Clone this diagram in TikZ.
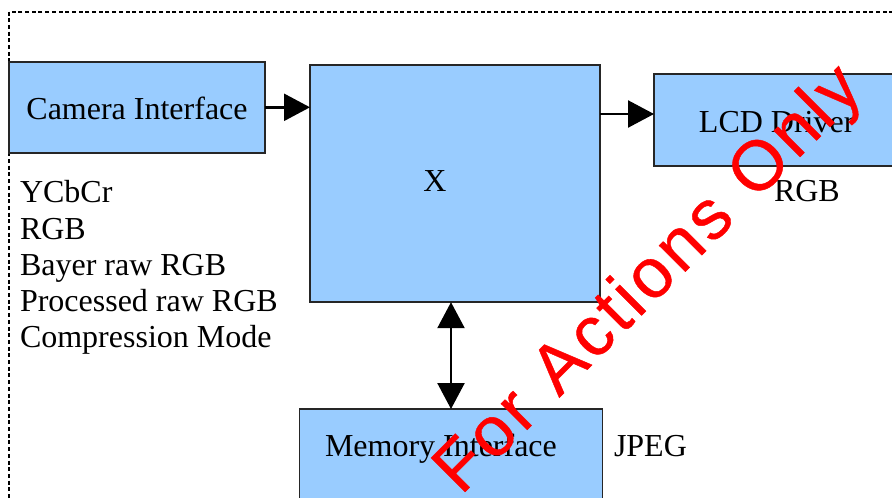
\documentclass[tikz,border=0pt]{standalone}
\usepackage{fontspec}
\setmainfont{Liberation Serif}
\newfontfamily\wmfont[FakeBold=0.6]{Liberation Sans}
\usetikzlibrary{arrows.meta}
\definecolor{boxblue}{HTML}{99CCFF}
\newcommand{\wk}{\kern3.6pt}
\begin{document}
\begin{tikzpicture}[x=1pt,y=-1pt,
  box/.style={draw=black!85, line width=1.8pt, fill=boxblue, inner sep=0pt, outer sep=0pt},
  txt/.style={inner sep=0pt, outer sep=0pt, font=\fontsize{32}{36}\selectfont},
  conn/.style={line width=2.4pt, -{Triangle[length=26pt,width=27pt]}},
  dconn/.style={line width=2.4pt, {Triangle[length=26pt,width=27pt]}-{Triangle[length=26pt,width=27pt]}},
  frame/.style={line width=2pt, dash pattern=on 4pt off 2.7pt},
  wm/.style={inner sep=0pt, outer sep=0pt, text=red, font=\wmfont\fontsize{70}{70}\selectfont}
]
\useasboundingbox (0,0) rectangle (892,498);

% dotted frame
\coordinate (fr1) at (900,11.5);
\coordinate (fr2) at (9,11.5);
\coordinate (fr3) at (9,505);
\draw[frame] (fr1) -- (fr2) -- (fr3);

% boxes
\node[box, minimum width=256pt, minimum height=91pt] (cam) at (137,107.7) {};
\node[box, minimum width=290pt, minimum height=237pt] (X) at (455,183.7) {};
\node[box, minimum width=296pt, minimum height=91.4pt] (lcd) at (802,120) {};
\node[box, minimum width=303pt, minimum height=151pt] (mem) at (451,484.5) {};

% box texts
\node[txt, anchor=base] (camtext) at (137,119) {Camera Interface};
\node[txt, anchor=base] (Xtext) at (435,191.7) {X};
\node[txt, anchor=base] (lcdtext) at (776.7,132.7) {LCD Driver};
\node[txt, anchor=base west] (memtext) at (325,456.7) {Memory Interface};

% labels
\node[txt, anchor=base west] (rgb2) at (774,201.7) {RGB};
\node[txt, anchor=base west] (jpeg) at (614,456.7) {JPEG};
\node[txt, anchor=base west] (l1) at (20,202.7) {YCbCr};
\node[txt, anchor=base west] (l2) at (20,239.0) {RGB};
\node[txt, anchor=base west] (l3) at (20,275.3) {Bayer raw RGB};
\node[txt, anchor=base west] (l4) at (20,311.6) {Processed raw RGB};
\node[txt, anchor=base west] (l5) at (20,347.9) {Compression Mode};

% connectors
\coordinate (y1) at (0,107.3);
\coordinate (y2) at (0,114);
\draw[conn] (cam.east |- y1) -- (X.west |- y1);
\draw[conn] (X.east |- y2) -- (lcd.west |- y2);
\draw[dconn] (mem.north) -- (mem.north |- X.south);

% watermark
\node[wm, rotate=45, anchor=base west] (wmark) at (461,496)
  {F\wk o\wk r\wk\ \wk A\wk c\wk t\wk i\wk o\wk n\wk s\wk\ \wk O\wk n\wk l\wk y};
\end{tikzpicture}
\end{document}
